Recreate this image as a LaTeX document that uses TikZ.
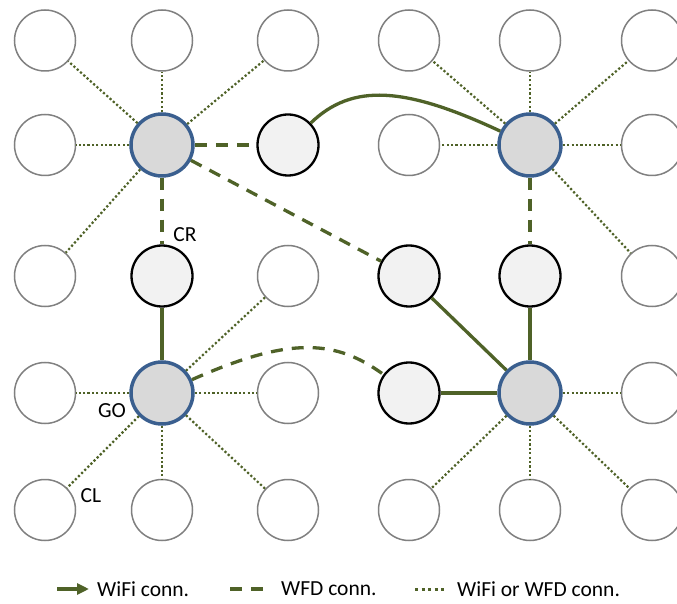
\documentclass[tikz,border=0pt]{standalone}
\usepackage{fontspec}
\setmainfont{Carlito}
\usetikzlibrary{arrows.meta}

\definecolor{wfdgreen}{RGB}{79,98,40}
\definecolor{goblue}{RGB}{58,95,143}

\tikzset{
  clnode/.style={circle,draw=black!50,fill=white,line width=1.5pt,minimum size=61pt,inner sep=0pt},
  relnode/.style={circle,draw=black,fill=black!5,line width=2.3pt,minimum size=61pt,inner sep=0pt},
  gonode/.style={circle,draw=goblue,fill=black!15,line width=3.5pt,minimum size=62pt,inner sep=0pt},
  wificonn/.style={draw=wfdgreen,line width=3.3pt},
  wfdconn/.style={draw=wfdgreen,line width=3.3pt,dash pattern=on 12pt off 9pt},
  anyconn/.style={draw=wfdgreen,line width=2.2pt,dash pattern=on 2.2pt off 2.2pt},
  lbl/.style={inner sep=0pt}
}

\begin{document}
\begin{tikzpicture}[x=1pt,y=1pt]
{\fontsize{21.5}{25}\selectfont
\useasboundingbox (0,0) rectangle (677,603);
\clip (0,0) rectangle (677,603);

% Drawing row 1
\node (n11) [clnode] at (45,562.5) {};
\node (n12) [clnode] at (162,562.5) {};
\node (n13) [clnode] at (288,562.5) {};
\node (n14) [clnode] at (409,562.5) {};
\node (n15) [clnode] at (530,562.5) {};
\node (n16) [clnode] at (652,562.5) {};

% Drawing row 2
\node (n21) [clnode] at (45,458) {};
\node (go1) [gonode] at (162,458) {};
\node (cr1) [relnode] at (288,458) {};
\node (n24) [clnode] at (409,458) {};
\node (go2) [gonode] at (530,458) {};
\node (n26) [clnode] at (652,458) {};

% Drawing row 3
\node (n31) [clnode] at (45,327) {};
\node (cr2) [relnode] at (162,327) {};
\node (n33) [clnode] at (288,327) {};
\node (cr3) [relnode] at (409,327) {};
\node (cr4) [relnode] at (530,327) {};
\node (n36) [clnode] at (652,327) {};

% Drawing row 4
\node (n41) [clnode] at (45,210) {};
\node (go3) [gonode] at (162,210) {};
\node (n43) [clnode] at (288,210) {};
\node (cr5) [relnode] at (409,210) {};
\node (go4) [gonode] at (530,210) {};
\node (n46) [clnode] at (652,210) {};

% Drawing row 5
\node (n51) [clnode] at (45,93) {};
\node (n52) [clnode] at (162,93) {};
\node (n53) [clnode] at (288,93) {};
\node (n54) [clnode] at (409,93) {};
\node (n55) [clnode] at (530,93) {};
\node (n56) [clnode] at (652,93) {};

% Drawing WiFi or WFD links
\draw [anyconn] (go1) -- (n11);
\draw [anyconn] (go1) -- (n12);
\draw [anyconn] (go1) -- (n13);
\draw [anyconn] (go1) -- (n21);
\draw [anyconn] (go1) -- (n31);
\draw [anyconn] (go2) -- (n14);
\draw [anyconn] (go2) -- (n15);
\draw [anyconn] (go2) -- (n16);
\draw [anyconn] (go2) -- (n24);
\draw [anyconn] (go2) -- (n26);
\draw [anyconn] (go2) -- (n36);
\draw [anyconn] (go3) -- (n33);
\draw [anyconn] (go3) -- (n41);
\draw [anyconn] (go3) -- (n43);
\draw [anyconn] (go3) -- (n51);
\draw [anyconn] (go3) -- (n52);
\draw [anyconn] (go3) -- (n53);
\draw [anyconn] (go4) -- (n46);
\draw [anyconn] (go4) -- (n54);
\draw [anyconn] (go4) -- (n55);
\draw [anyconn] (go4) -- (n56);

% Drawing WFD links
\draw [wfdconn] (go1) -- (cr1);
\draw [wfdconn] (go1) -- (cr2);
\draw [wfdconn] (go1) -- (cr3);
\draw [wfdconn] (go2) -- (cr4);
\draw [wfdconn] (go3) to [out=24,in=144,out looseness=1.45,in looseness=0.78] (cr5);

% Drawing WiFi links
\draw [wificonn] (cr1) to [out=44,in=155,out looseness=0.78,in looseness=1.42] (go2);
\draw [wificonn] (go3) -- (cr2);
\draw [wificonn] (go4) -- (cr4);
\draw [wificonn] (go4) -- (cr3);
\draw [wificonn] (go4) -- (cr5);

% Labels
\node (lblcr) [lbl] at (185,368) {CR};
\node (lblgo) [lbl] at (112,192.5) {GO};
\node (lblcl) [lbl] at (91,107.5) {CL};

% Drawing legend
\coordinate (lgwifiA) at (57,14);
\coordinate (lgwifiB) at (89,14);
\node (lgwifi) [lbl,anchor=west] at (97,14) {WiFi conn.};
\draw [wificonn,-{Triangle[length=12pt,width=11pt]}] (lgwifiA) -- (lgwifiB);
\coordinate (lgwfdA) at (230,14);
\coordinate (lgwfdB) at (267,14);
\node (lgwfd) [lbl,anchor=west] at (281,14) {WFD conn.};
\draw [wfdconn] (lgwfdA) -- (lgwfdB);
\coordinate (lganyA) at (415,14);
\coordinate (lganyB) at (447,14);
\node (lgany) [lbl,anchor=west] at (457,14) {WiFi or WFD conn.};
\draw [anyconn,line width=3pt,dash pattern=on 3pt off 3.5pt] (lganyA) -- (lganyB);
}
\end{tikzpicture}
\end{document}
